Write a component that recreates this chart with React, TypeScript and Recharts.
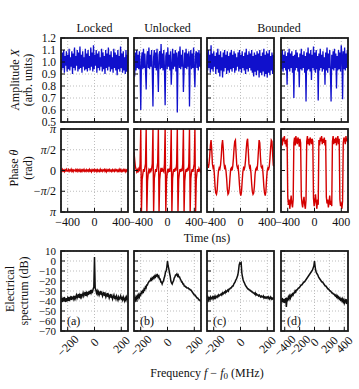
import React from "react";
import { LineChart, Line, XAxis, YAxis, CartesianGrid } from "recharts";

/* =======================
   Data
======================= */
// time traces, sampled evenly over -500..500 ns
const lockedAmp = [
  1.02, 0.93, 1.08, 0.95, 1.1, 0.91, 1.05, 0.97, 1.09, 0.92,
  1.06, 0.94, 1.11, 0.93, 1.04, 0.96, 1.09, 0.9, 1.07, 0.95,
  1.12, 0.93, 1.05, 0.97, 1.1, 0.92, 1.08, 0.94, 1.13, 0.95,
  1.06, 0.91, 1.09, 0.96, 1.04, 0.93, 1.11, 0.94, 1.07, 0.92,
  1.1, 0.95, 1.05, 0.93, 1.12, 0.96, 1.08, 0.92, 1.14, 0.94,
  1.06, 0.97, 1.1, 0.91, 1.07, 0.95, 1.09, 0.93, 1.04, 0.96,
  1.11, 0.92, 1.08, 0.94, 1.05, 0.9, 1.1, 0.95, 1.07, 0.93,
  1.12, 0.96, 1.06, 0.92, 1.09, 0.94, 1.04, 0.91, 1.11, 0.95,
  1.08, 0.93, 1.06, 0.89, 1.1, 0.94, 1.05, 0.92, 1.13, 0.95,
  1.07, 0.91, 1.09, 0.93, 1.04, 0.9, 1.1, 0.92, 1.06, 0.91,
];
const unlockedAmp = [
  1.05, 0.88, 1.08, 0.93, 1.1, 0.95, 1.06, 0.94, 1.09, 0.96,
  0.6, 1.02, 1.08, 0.94, 1.11, 0.95, 1.07, 0.93, 0.77, 1.05,
  1.09, 0.95, 1.12, 0.94, 1.06, 0.96, 1.1, 0.93, 0.63, 1.04,
  1.1, 0.95, 1.08, 0.93, 1.11, 0.96, 0.75, 1.06, 1.09, 0.94,
  1.15, 0.95, 1.07, 0.93, 1.1, 0.95, 0.64, 1.05, 1.08, 0.94,
  1.12, 0.96, 1.06, 0.93, 1.09, 0.81, 0.95, 1.11, 0.94, 1.07,
  0.96, 1.1, 0.92, 1.08, 0.58, 1.03, 1.09, 0.95, 1.13, 0.94,
  1.06, 0.96, 1.1, 0.75, 0.93, 1.08, 0.95, 1.11, 0.94, 1.07,
  0.96, 1.09, 0.63, 1.04, 1.1, 0.94, 1.07, 0.95, 1.12, 0.93,
  0.79, 1.06, 1.09, 0.95, 1.08, 0.93, 1.1, 0.96, 1.07, 0.95,
];
const bounded1Amp = [
  1.08, 0.93, 1.1, 0.95, 1.06, 0.91, 1.14, 0.94, 1.07, 0.92,
  1.09, 0.96, 1.05, 0.9, 1.08, 0.94, 1.11, 0.91, 1.06, 0.88,
  1.09, 0.93, 1.04, 0.87, 1.08, 0.92, 1.1, 0.95, 1.06, 0.9,
  1.09, 0.93, 1.05, 0.91, 1.08, 0.94, 1.1, 0.92, 1.06, 0.95,
  1.09, 0.91, 1.07, 0.93, 1.04, 0.96, 1.08, 0.92, 1.1, 0.94,
  1.06, 0.91, 1.09, 0.95, 1.05, 0.93, 1.08, 0.9, 1.11, 0.94,
  1.06, 0.92, 1.09, 0.95, 1.07, 0.93, 1.1, 0.91, 1.05, 0.88,
  1.08, 0.92, 1.06, 0.89, 1.09, 0.93, 1.07, 0.87, 1.1, 0.91,
  1.05, 0.89, 1.08, 0.92, 1.11, 0.88, 1.06, 0.9, 1.09, 0.87,
  1.07, 0.91, 1.1, 0.89, 1.05, 0.93, 1.08, 0.9, 1.06, 0.92,
];
const bounded2Amp = [
  1.07, 0.94, 1.1, 0.92, 1.06, 0.95, 1.09, 0.93, 1.05, 0.81,
  1.08, 0.94, 1.11, 0.92, 1.07, 0.95, 1.09, 0.91, 1.05, 0.7,
  1.06, 0.93, 1.1, 0.95, 1.08, 0.92, 1.04, 0.79, 1.07, 0.94,
  1.11, 0.93, 1.06, 0.95, 1.09, 0.91, 1.05, 0.67, 1.08, 0.93,
  1.12, 0.94, 1.07, 0.92, 1.1, 0.85, 1.06, 0.95, 1.13, 0.93,
  1.08, 0.91, 1.1, 0.94, 1.05, 0.68, 1.07, 0.93, 1.11, 0.95,
  1.06, 0.92, 1.09, 0.94, 1.04, 0.81, 1.08, 0.93, 1.12, 0.91,
  1.07, 0.95, 1.1, 0.92, 0.67, 1.06, 0.94, 1.09, 0.93, 1.11,
  0.95, 1.07, 0.78, 1.05, 0.93, 1.1, 0.94, 1.08, 0.92, 1.14,
  1.06, 0.69, 1.09, 0.94, 1.12, 0.93, 1.07, 0.95, 1.1, 0.94,
];

const lockedPhase = [
  0.05, -0.06, 0.08, -0.04, 0.03, -0.08, 0.06, -0.02, 0.09, -0.05,
  -0.03, 0.07, -0.07, 0.04, -0.02, 0.1, -0.06, 0.03, -0.09, 0.05,
  0.02, -0.05, 0.08, -0.03, 0.06, -0.07, 0.04, -0.04, 0.07, -0.06,
  0.03, -0.08, 0.05, -0.02, 0.09, -0.05, 0.02, -0.07, 0.06, -0.03,
  0.04, -0.06, 0.08, -0.04, 0.03, -0.09, 0.06, -0.02, 0.05, -0.07,
  0.07, -0.03, 0.04, -0.08, 0.06, -0.05, 0.02, -0.06, 0.09, -0.04,
  0.03, -0.07, 0.05, -0.02, 0.08, -0.06, 0.04, -0.09, 0.06, -0.03,
  0.05, -0.05, 0.07, -0.04, 0.02, -0.08, 0.06, -0.03, 0.04, -0.06,
  0.08, -0.02, 0.05, -0.07, 0.03, -0.05, 0.09, -0.04, 0.06, -0.08,
  0.02, -0.06, 0.07, -0.03, 0.05, -0.09, 0.04, -0.05, 0.06, -0.04,
];
const unlockedPhase = [
  1.4, 0.8, 0.3, 0.1, -0.1, 0.05, -0.15, 0.1, -0.05, 0.5,
  3.14, -3.14, -0.7, -0.3, 0.1, -0.1, 0.2, 0.5, 3.14, -3.14,
  -0.8, -0.2, 0.05, -0.1, 0.15, -0.05, 0.1, 0.5, 3.14, -3.14,
  -0.6, -0.2, 0.1, -0.1, 0.2, 0.6, 3.14, -3.14, -0.7, -0.1,
  0.2, -0.1, 0.1, 0.0, -0.1, 0.5, 3.14, -3.14, -0.8, -0.2,
  0.1, -0.05, 0.15, -0.1, 0.5, 3.14, -3.14, -0.6, -0.1, 0.1,
  -0.1, 0.2, 0.0, 0.5, 3.14, -3.14, -0.7, -0.2, 0.1, -0.1,
  0.15, -0.05, 0.5, 3.14, -3.14, -0.8, -0.2, 0.1, -0.1, 0.2,
  0.0, 0.5, 3.14, -3.14, -0.6, -0.1, 0.1, -0.1, 0.2, 0.5,
  3.14, -3.14, -0.7, -0.2, 0.1, -0.1, 0.15, 0.0, -0.1, 0.1,
];
const bounded1Phase = [
  0.9, 0.4, 0.2, 0.5, 1.1, 1.9, 2.3, 1.6, 0.5, 0.2,
  0.3, -0.4, -1.3, -1.7, -1.8, -1.5, -0.6, 0.0, 0.2, 0.1,
  0.4, 1.0, 1.9, 2.3, 1.7, 0.6, 0.2, 0.3, 0.0, -0.6,
  -1.4, -1.8, -1.7, -1.3, -0.5, 0.1, 0.2, 0.0, 0.3, 0.9,
  1.7, 2.2, 2.3, 1.3, 0.4, 0.2, 0.3, -0.3, -1.1, -1.7,
  -1.9, -1.6, -0.8, -0.1, 0.2, 0.1, 0.3, 0.8, 1.6, 2.2,
  2.4, 1.5, 0.5, 0.2, 0.3, -0.2, -1.0, -1.6, -1.8, -1.7,
  -1.2, -0.3, 0.1, 0.2, 0.0, 0.6, 1.5, 2.3, 2.1, 1.0,
  0.3, 0.2, 0.3, -0.4, -1.2, -1.7, -1.9, -1.6, -0.7, 0.0,
  0.2, 0.1, 0.3, 0.9, 1.7, 2.3, 2.2, 1.2, 0.4, 0.3,
];
const bounded2Phase = [
  2.0, 2.4, 1.9, 2.5, 2.2, 2.6, 2.0, 2.3, 1.8, 2.4,
  -2.0, -2.6, -2.2, -2.9, -2.4, -1.9, -2.5, -2.8, -2.2, 2.1,
  2.5, 1.9, 2.6, 2.2, 2.0, 2.5, 2.3, 1.8, 2.4, 2.1,
  -1.9, -2.5, -2.8, -2.3, -2.0, -2.6, -2.9, -2.2, 2.2, 2.6,
  2.0, 2.4, 1.9, 2.5, 2.3, 2.0, 2.4, 2.2, -2.1, -2.7,
  -2.3, -1.8, -2.4, -2.9, -2.2, -2.6, 2.3, 1.9, 2.5, 2.2,
  2.6, 2.0, 2.4, 2.1, 2.5, 1.9, 2.3, -2.0, -2.5, -2.2,
  -2.8, -2.4, -1.9, -2.6, -2.3, -2.7, 2.2, 2.6, 2.0, 2.4,
  2.1, 2.5, 1.9, 2.3, 2.6, 2.0, 2.4, -2.2, -2.7, -2.4,
  -2.9, -2.3, 2.1, 2.5, 2.3, 2.0, 2.6, 2.2, 2.4, 2.1,
];

// spectra in dB, (a)-(c) over -250..250 MHz, (d) over -450..450 MHz
const specA = [
  -40, -37, -41, -38, -40, -36, -39, -41, -37, -39,
  -37, -40, -36, -39, -38, -35, -39, -37, -36, -38,
  -35, -38, -36, -34, -37, -35, -33, -37, -34, -36,
  -33, -36, -34, -32, -35, -33, -31, -35, -32, -34,
  -31, -34, -30, -33, -29, -32, -30, -31, -28, -26,
  4,
  -27, -29, -32, -30, -33, -31, -34, -32, -30, -34,
  -32, -35, -33, -31, -35, -33, -36, -34, -32, -36,
  -34, -37, -35, -33, -37, -35, -38, -36, -34, -37,
  -36, -38, -35, -37, -39, -36, -38, -37, -35, -38,
  -37, -39, -36, -38, -40, -37, -39, -36, -38, -37,
];
const specB = [
  -39, -37, -39, -36, -38, -35, -37, -34, -36, -33,
  -34, -31, -32, -30, -31, -28, -29, -26, -27, -24,
  -24, -22, -21, -20, -20, -18, -19, -17, -18, -16,
  -17, -15, -16, -14, -15, -14, -16, -15, -18, -18,
  -21, -21, -23, -21, -20, -17, -15, -11, -10, -6,
  0,
  -5, -8, -12, -15, -20, -22, -23, -21, -20, -17,
  -16, -14, -14, -13, -15, -14, -16, -16, -18, -19,
  -21, -21, -23, -23, -25, -25, -26, -26, -27, -27,
  -27, -28, -28, -29, -29, -30, -31, -32, -33, -34,
  -34, -35, -36, -37, -37, -38, -39, -39, -40, -40,
];
const specC = [
  -38, -36, -39, -37, -38, -36, -38, -37, -36, -38,
  -36, -37, -35, -37, -36, -35, -36, -34, -35, -34,
  -34, -33, -34, -32, -33, -32, -31, -32, -30, -31,
  -30, -29, -30, -28, -28, -27, -27, -26, -25, -25,
  -23, -22, -21, -19, -18, -16, -14, -10, -4, -2,
  -3,
  -2, -12, -16, -19, -21, -22, -24, -25, -26, -27,
  -28, -28, -29, -29, -30, -30, -31, -31, -32, -32,
  -33, -32, -34, -33, -34, -34, -35, -34, -35, -36,
  -35, -36, -36, -35, -37, -36, -37, -36, -37, -36,
  -37, -36, -38, -37, -36, -38, -37, -38, -37, -38,
];
const specD = [
  -38, -41, -37, -40, -38, -42, -39, -37, -46, -38,
  -39, -36, -38, -35, -37, -34, -35, -33, -34, -32,
  -32, -30, -31, -29, -29, -28, -27, -27, -26, -25,
  -24, -24, -23, -22, -21, -21, -20, -19, -18, -17,
  -16, -15, -14, -13, -12, -11, -10, -9, -7, -5,
  0,
  -6, -10, -12, -13, -14, -16, -17, -18, -19, -20,
  -21, -21, -22, -23, -24, -25, -25, -26, -27, -28,
  -28, -29, -30, -30, -31, -32, -32, -33, -33, -34,
  -35, -34, -36, -35, -37, -36, -38, -37, -39, -38,
  -40, -38, -41, -39, -42, -40, -38, -43, -40, -41,
];

/* ticks */
const ampTicks = [0.5, 0.6, 0.7, 0.8, 0.9, 1.0, 1.1, 1.2];
const PI = Math.PI;
const phaseTicks = [-PI, -PI / 2, 0, PI / 2, PI];
const dbTicks = [-70, -60, -50, -40, -30, -20, -10, 0, 10];
const timeTicks = [-400, 0, 400];
const freqTicks = [-200, 0, 200];
const freqTicksWide = [-400, -200, 0, 200, 400];

/* =======================
   Style / layout
======================= */
const FONT = '"Liberation Serif", "Times New Roman", serif';
const INK = "#111";
const BLUE = "#1010cc";
const RED = "#d40000";
const COLS = [61, 134, 207, 281];
const PW = 67;
const ROWS = [
  { top: 38, h: 84 },
  { top: 129, h: 83 },
  { top: 251, h: 80 },
];
const PL = 50, PR = 16, PT = 6, PB = 44;

const onGrid = (vals: number[], from: number, to: number) =>
  vals.map((v, i) => ({ x: from + (i * (to - from)) / (vals.length - 1), v }));

const fmtNum = (v: number) => (v < 0 ? "\u2212" + Math.abs(v) : String(v));
const fmtAmp = (v: number) => v.toFixed(1);
const fmtPhase = (v: number) => {
  const pi = <tspan fontStyle="italic">π</tspan>;
  if (Math.abs(v) < 1e-6) return "0";
  if (Math.abs(Math.abs(v) - PI) < 1e-6) return pi;
  return (
    <>
      {v < 0 ? "\u2212" : ""}
      {pi}/2
    </>
  );
};

/* =======================
   Ticks (inward marks, labels outside)
======================= */
const leftTick = (fmt?: (v: number) => React.ReactNode, size = 12) => (props: any) => {
  const { x, y, payload } = props;
  return (
    <g>
      <line x1={x} x2={x + 4} y1={y} y2={y} stroke={INK} strokeWidth={1} />
      {fmt && (
        <text x={x - 5} y={y} dy="0.35em" textAnchor="end" fontSize={size} fontFamily={FONT} fill={INK}>
          {fmt(payload.value)}
        </text>
      )}
    </g>
  );
};

const bottomTick = (mode: "none" | "flat" | "rot") => (props: any) => {
  const { x, y, payload } = props;
  const s = fmtNum(payload.value);
  const len = s.length * 6;
  const cy = y + 10 + len * 0.2;
  return (
    <g>
      <line x1={x} x2={x} y1={y} y2={y - 4} stroke={INK} strokeWidth={1} />
      {mode === "flat" && (
        <text x={x} y={y + 14} textAnchor="middle" fontSize={12} fontFamily={FONT} fill={INK}>
          {s}
        </text>
      )}
      {mode === "rot" && (
        <text
          x={x}
          y={cy}
          dy="0.35em"
          textAnchor="middle"
          fontSize={12}
          fontFamily={FONT}
          fill={INK}
          transform={`rotate(-45 ${x} ${cy})`}
        >
          {s}
        </text>
      )}
    </g>
  );
};

/* =======================
   One panel
======================= */
type PanelProps = {
  col: number;
  row: number;
  rows: { x: number; v: number }[];
  color: string;
  sw: number;
  xDomain: [number, number];
  xTicks: number[];
  yDomain: [number, number];
  yTicks: number[];
  yFmt?: (v: number) => React.ReactNode;
  yFont?: number;
  xMode: "none" | "flat" | "rot";
};

const Panel = (p: PanelProps) => {
  const left = COLS[p.col];
  const { top, h } = ROWS[p.row];
  return (
    <div style={{ position: "absolute", left: left - PL, top: top - PT }}>
      <LineChart
        width={PW + PL + PR}
        height={h + PT + PB}
        data={p.rows}
        margin={{ top: PT, right: PR, bottom: 0, left: 0 }}
        style={{ overflow: "visible" }}
      >
        <CartesianGrid stroke="#bdbdbd" strokeDasharray="1 2" />
        <XAxis
          type="number"
          dataKey="x"
          domain={p.xDomain}
          ticks={p.xTicks}
          allowDataOverflow
          interval={0}
          height={PB}
          axisLine={false}
          tickLine={false}
          tickSize={0}
          tickMargin={0}
          tick={bottomTick(p.xMode)}
        />
        <YAxis
          type="number"
          domain={p.yDomain}
          ticks={p.yTicks}
          allowDataOverflow
          interval={0}
          width={PL}
          axisLine={false}
          tickLine={false}
          tickSize={0}
          tickMargin={0}
          tick={leftTick(p.yFmt, p.yFont)}
        />
        <Line
          type="linear"
          dataKey="v"
          stroke={p.color}
          strokeWidth={p.sw}
          dot={false}
          isAnimationActive={false}
        />
      </LineChart>
    </div>
  );
};

/* =======================
   Labels and frames
======================= */
const Overlay = () => (
  <svg
    width={359}
    height={389}
    style={{ position: "absolute", left: 0, top: 0, pointerEvents: "none" }}
    fontFamily={FONT}
    fill={INK}
    fontSize={12}
  >
    {ROWS.map((r, ri) =>
      COLS.map((c, ci) => (
        <rect
          key={`${ri}-${ci}`}
          x={c}
          y={r.top}
          width={PW}
          height={r.h}
          fill="none"
          stroke="#1a1a1a"
          strokeWidth={1.8}
        />
      ))
    )}

    <text x={94.5} y={28} textAnchor="middle" dominantBaseline="central">Locked</text>
    <text x={167.5} y={28} textAnchor="middle" dominantBaseline="central">Unlocked</text>
    <text x={279} y={28} textAnchor="middle" dominantBaseline="central">Bounded</text>

    <text transform="translate(15,80) rotate(-90)" textAnchor="middle" dominantBaseline="central">
      Amplitude <tspan fontStyle="italic">X</tspan>
    </text>
    <text transform="translate(28,80) rotate(-90)" textAnchor="middle" dominantBaseline="central">
      (arb. units)
    </text>
    <text transform="translate(14,168) rotate(-90)" textAnchor="middle" dominantBaseline="central">
      Phase <tspan fontStyle="italic">θ</tspan>
    </text>
    <text transform="translate(28,168) rotate(-90)" textAnchor="middle" dominantBaseline="central">
      (rad)
    </text>
    <text transform="translate(10,289) rotate(-90)" textAnchor="middle" dominantBaseline="central">
      Electrical
    </text>
    <text transform="translate(23.5,291) rotate(-90)" textAnchor="middle" dominantBaseline="central">
      spectrum (dB)
    </text>

    <text x={207} y={238} textAnchor="middle" dominantBaseline="central">Time (ns)</text>
    <text x={207} y={373} textAnchor="middle" dominantBaseline="central">
      Frequency <tspan fontStyle="italic">f</tspan> − <tspan fontStyle="italic">f</tspan>
      <tspan fontSize={9} dy={3}>0</tspan>
      <tspan dy={-3}> (MHz)</tspan>
    </text>

    {["(a)", "(b)", "(c)", "(d)"].map((t, i) => (
      <text key={t} x={COLS[i] + 6} y={321} dominantBaseline="central">
        {t}
      </text>
    ))}
  </svg>
);

/* =======================
   Figure
======================= */
const T: [number, number] = [-500, 500];
const F: [number, number] = [-250, 250];
const FW: [number, number] = [-450, 450];
const AMP: [number, number] = [0.5, 1.2];
const PH: [number, number] = [-PI, PI];
const DB: [number, number] = [-70, 10];

const amps = [lockedAmp, unlockedAmp, bounded1Amp, bounded2Amp];
const phases = [lockedPhase, unlockedPhase, bounded1Phase, bounded2Phase];
const spectra = [specA, specB, specC, specD];

export default function App() {
  return (
    <div
      style={{
        position: "absolute",
        left: 0,
        top: 0,
        width: 359,
        height: 389,
        background: "#fff",
        fontFamily: FONT,
        overflow: "hidden",
      }}
    >
      {amps.map((vals, i) => (
        <Panel
          key={`a${i}`}
          col={i}
          row={0}
          rows={onGrid(vals, T[0], T[1])}
          color={BLUE}
          sw={1.3}
          xDomain={T}
          xTicks={timeTicks}
          yDomain={AMP}
          yTicks={ampTicks}
          yFmt={i === 0 ? fmtAmp : undefined}
          yFont={11.5}
          xMode="none"
        />
      ))}
      {phases.map((vals, i) => (
        <Panel
          key={`p${i}`}
          col={i}
          row={1}
          rows={onGrid(vals, T[0], T[1])}
          color={RED}
          sw={1.4}
          xDomain={T}
          xTicks={timeTicks}
          yDomain={PH}
          yTicks={phaseTicks}
          yFmt={i === 0 ? fmtPhase : undefined}
          xMode="flat"
        />
      ))}
      {spectra.map((vals, i) => {
        const dom = i === 3 ? FW : F;
        return (
          <Panel
            key={`s${i}`}
            col={i}
            row={2}
            rows={onGrid(vals, dom[0], dom[1])}
            color={INK}
            sw={1.5}
            xDomain={dom}
            xTicks={i === 3 ? freqTicksWide : freqTicks}
            yDomain={DB}
            yTicks={dbTicks}
            yFmt={i === 0 ? fmtNum : undefined}
            yFont={11}
            xMode="rot"
          />
        );
      })}
      <Overlay />
    </div>
  );
}
